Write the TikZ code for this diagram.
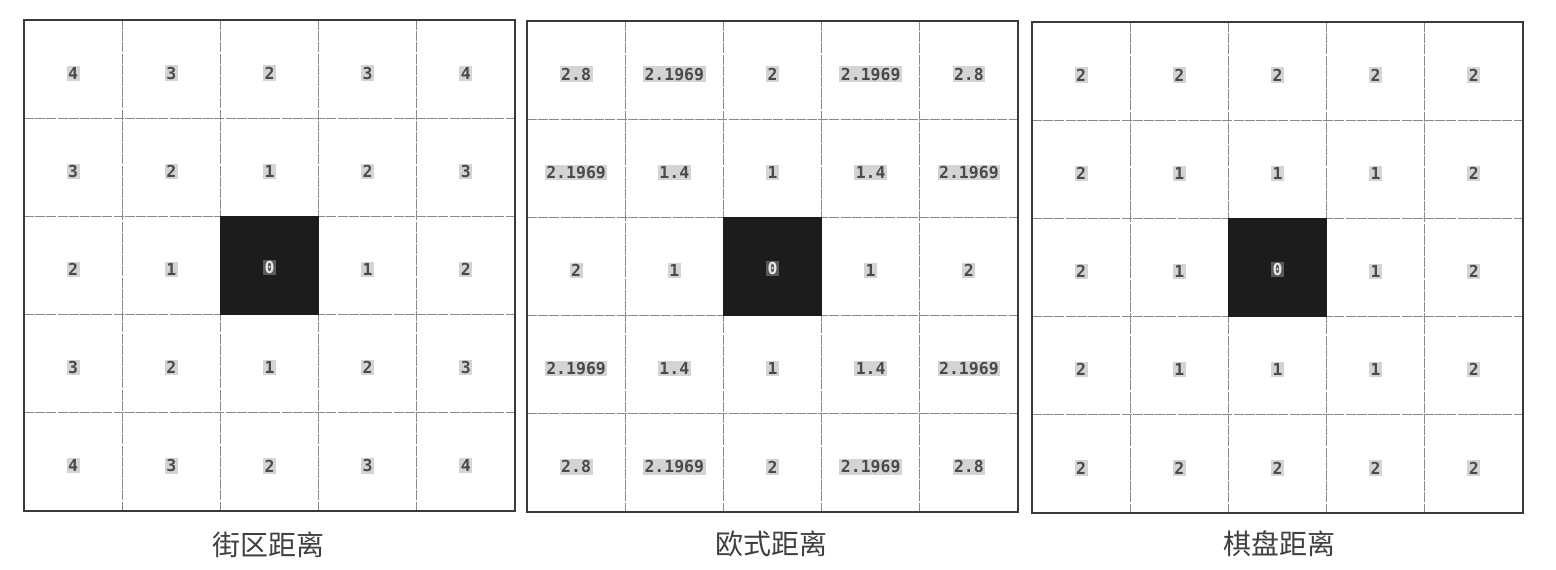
\documentclass[tikz,border=0pt]{standalone}
\usepackage{fontspec}
\newfontfamily\monof{DejaVu Sans Mono}
\newfontfamily\cjk{Noto Sans CJK SC}
\definecolor{numbg}{HTML}{D4D4D4}
\definecolor{numtxt}{HTML}{4A4A4A}
\definecolor{cellblk}{HTML}{1C1C1E}
\definecolor{gline}{HTML}{8A8A8A}
\definecolor{frame}{HTML}{3A3A3A}
\definecolor{labtxt}{HTML}{404040}
\begin{document}
\begin{tikzpicture}[x=1pt,y=-1pt,
  num/.style={font=\monof\bfseries\fontsize{16.5}{17}\selectfont, fill=numbg, text=numtxt, inner sep=1.5pt},
  zero/.style={font=\monof\bfseries\fontsize{16.5}{17}\selectfont, fill=gray!70!black, text=gray!20, inner sep=1.5pt},
  blackcell/.style={fill=cellblk, draw=none, minimum size=97pt, inner sep=0pt},
  gridline/.style={draw=gline, line width=0.7pt, dash pattern=on 10pt off 1.2pt},
  outer/.style={draw=frame, line width=2pt},
  lab/.style={font=\cjk\fontsize{28}{30}\selectfont, text=labtxt}]
\useasboundingbox (0,0) rectangle (1556,570);
\fill[white] (0,0) rectangle (1556,570);
\def\cs{98.2}
% ---------- grid drawing macro ----------
\newcommand{\drawgrid}[4]{% #1 name, #2 left, #3 top, #4 rows
  \node[blackcell] (#1-blk) at ({#2+2.5*\cs},{#3+2.5*\cs}) {};
  \foreach \k in {1,2,3,4}{
    \draw[gridline] ({#2+\k*\cs},{#3}) -- ({#2+\k*\cs},{#3+5*\cs});
    \draw[gridline] ({#2},{#3+\k*\cs}) -- ({#2+5*\cs},{#3+\k*\cs});
  }
  \fill[cellblk] ({#2+2*\cs},{#3+2*\cs}) rectangle ({#2+3*\cs},{#3+3*\cs});
  \draw[outer] ({#2},{#3}) rectangle ({#2+5*\cs},{#3+5*\cs});
  \foreach \row [count=\r] in {#4}{
    \foreach \v [count=\c] in \row {
      \ifnum\r\c=33
        \node[zero] (#1-\r-\c) at ({#2+(\c-0.5)*\cs},{#3+(\r-0.5)*\cs+2}) {\v};
      \else
        \node[num] (#1-\r-\c) at ({#2+(\c-0.5)*\cs},{#3+(\r-0.5)*\cs+4}) {\v};
      \fi
    }
  }
}
\drawgrid{ga}{24}{20}{{4,3,2,3,4},{3,2,1,2,3},{2,1,0,1,2},{3,2,1,2,3},{4,3,2,3,4}}
\drawgrid{gb}{527}{21}{{2.8,2.1969,2,2.1969,2.8},{2.1969,1.4,1,1.4,2.1969},{2,1,0,1,2},{2.1969,1.4,1,1.4,2.1969},{2.8,2.1969,2,2.1969,2.8}}
\drawgrid{gc}{1032}{22}{{2,2,2,2,2},{2,1,1,1,2},{2,1,0,1,2},{2,1,1,1,2},{2,2,2,2,2}}
\node[lab] (la) at (268,545) {街区距离};
\node[lab] (lb) at (771,544) {欧式距离};
\node[lab] (lc) at (1279,544) {棋盘距离};
\end{tikzpicture}
\end{document}
